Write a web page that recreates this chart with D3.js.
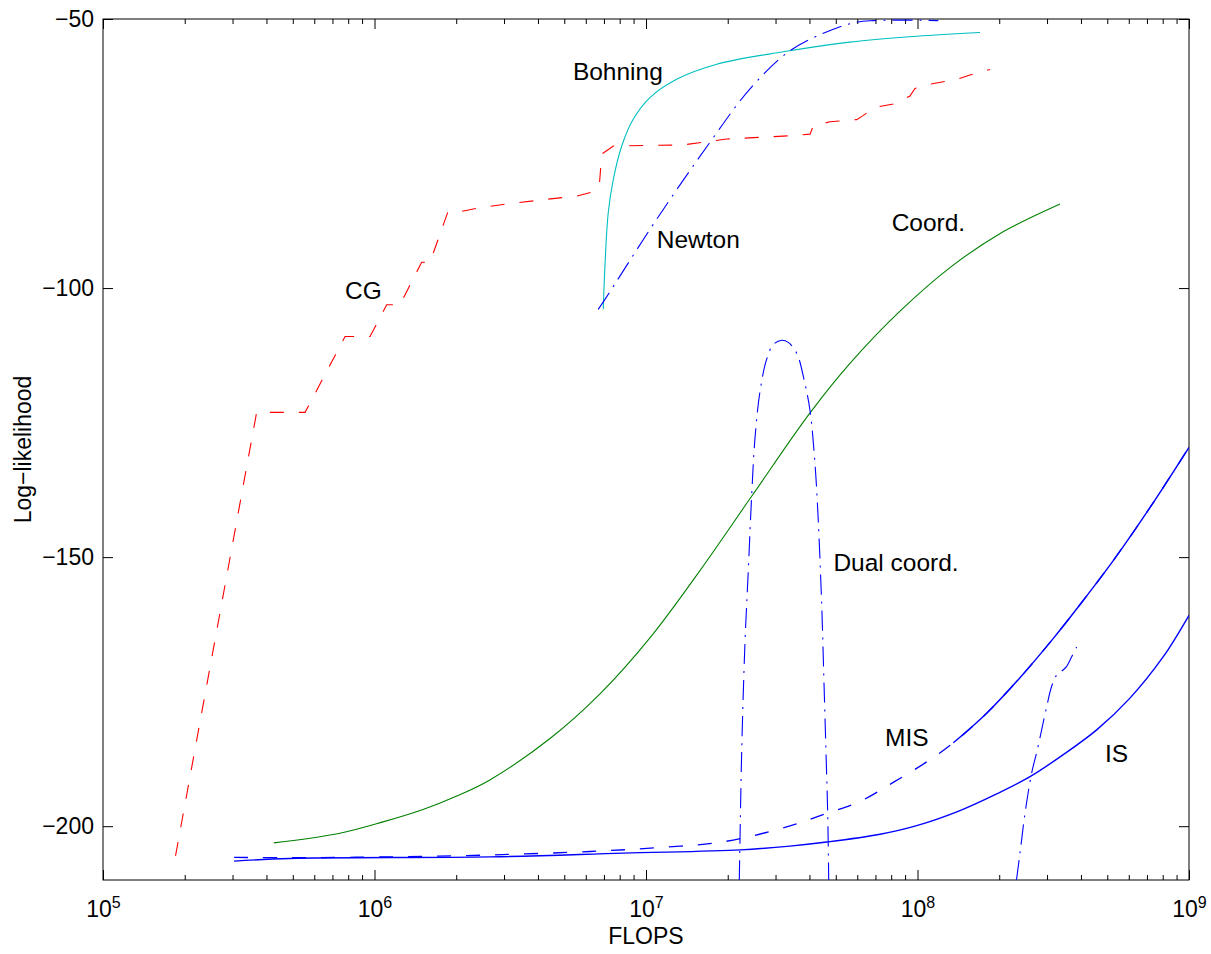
<!DOCTYPE html>
<html><head><meta charset="utf-8">
<script src="https://cdn.jsdelivr.net/npm/d3@7"></script>
<style>
body{margin:0;background:#fff}
text{font-family:"Liberation Sans",Arial,Helvetica,sans-serif;fill:#000}
</style>
</head><body>
<svg id="chart" width="1211" height="954"></svg>
<script>
// ---------- data ----------
const xMajorTicks = [1e5, 1e6, 1e7, 1e8, 1e9];
const xTickExponents = ["5", "6", "7", "8", "9"];
const yTicks = [-200, -150, -100, -50];

const cgX = [1.85e5, 3.68e5, 5.55e5, 7.79e5, 9.63e5, 1.109e6, 1.241e6, 1.492e6, 1.601e6, 1.865e6, 2.064e6, 2.378e6, 3.025e6, 4.31e6, 5.56e6, 6.39e6, 6.73e6, 6.87e6, 7.58e6, 1.372e7, 1.983e7, 3.39e7, 4.02e7, 4.13e7, 4.76e7, 5.97e7, 6.28e7, 6.98e7, 8.14e7, 9.38e7, 9.79e7, 1.112e8, 1.395e8, 1.561e8, 1.849e8];
const cgY = [-205.5, -123.1, -123.1, -109.0, -109.0, -103.1, -103.1, -95.2, -95.2, -85.8, -85.8, -85.2, -84.4, -83.5, -82.9, -82.1, -81.0, -75.1, -73.6, -73.4, -72.3, -71.7, -71.4, -69.9, -69.1, -68.7, -68.0, -66.4, -65.8, -64.3, -62.9, -62.1, -61.2, -60.4, -59.4];

const bohningX = [6.96e6, 7.06e6, 7.26e6, 7.58e6, 8.14e6, 8.98e6, 1.034e7, 1.297e7, 1.822e7, 3.20e7, 5.64e7, 9.93e7, 1.699e8];
const bohningY = [-103.95, -95.9, -86.0, -79.8, -73.6, -68.6, -64.6, -61.2, -58.4, -56.1, -54.3, -53.2, -52.5];

const newtonX = [6.67e6, 7.06e6, 1.095e7, 1.721e7, 2.416e7, 3.39e7, 4.90e7, 5.97e7, 6.87e7, 8.62e7, 1.193e8];
const newtonY = [-103.95, -102.1, -87.2, -72.9, -63.0, -55.9, -51.9, -50.6, -50.3, -50.2, -50.3];

const coordX = [4.26e5, 7.46e5, 1.075e6, 1.509e6, 2.01e6, 2.66e6, 4.43e6, 6.77e6, 1.034e7, 1.58e7, 2.457e7, 4.02e7, 5.64e7, 8.62e7, 1.317e8, 2.01e8, 3.35e8];
const coordY = [-203.1, -201.3, -199.2, -196.9, -194.4, -191.4, -183.7, -175.4, -165.0, -152.5, -138.6, -123.2, -114.0, -104.3, -96.2, -89.9, -84.4];

const dualX = [2.206e7, 2.219e7, 2.252e7, 2.315e7, 2.381e7, 2.45e7, 2.52e7, 2.63e7, 2.783e7, 2.943e7, 3.16e7, 3.343e7, 3.59e7, 3.85e7, 4.02e7, 4.19e7, 4.31e7, 4.44e7, 4.52e7, 4.60e7, 4.67e7, 4.71e7];
const dualY = [-210, -202.65, -185.9, -165.9, -152.5, -138.6, -127.9, -119.2, -113.2, -110.5, -109.7, -110.1, -112.1, -117.8, -122.8, -132.5, -143.2, -159.2, -172.6, -185.9, -197.9, -210];

const dual2X = [2.315e8, 2.385e8, 2.489e8, 2.634e8, 2.762e8, 2.991e8, 3.12e8, 3.256e8, 3.397e8, 3.544e8, 3.698e8, 3.857e8];
const dual2Y = [-210, -205.0, -197.6, -190.1, -185.8, -177.8, -174.0, -171.9, -171.2, -170.3, -168.5, -166.7];

const misX = [3.04e5, 4.88e5, 1.141e6, 2.66e6, 6.22e6, 1.095e7, 1.926e7, 3.39e7, 4.63e7, 6.14e7, 8.14e7, 1.081e8, 1.355e8, 1.798e8, 2.385e8, 3.164e8, 3.97e8, 5.26e8, 7.18e8, 1e9];
const misY = [-205.8, -205.85, -205.7, -205.35, -204.7, -204.0, -202.9, -199.95, -197.6, -195.4, -191.86, -188.05, -184.5, -179.0, -172.4, -165.1, -158.8, -150.65, -140.8, -129.6];

const isX = [3.04e5, 4.88e5, 2.66e6, 8.25e6, 2.232e7, 3.39e7, 4.63e7, 7.28e7, 9.93e7, 1.434e8, 1.957e8, 2.597e8, 3.444e8, 4.57e8, 6.06e8, 8.04e8, 1e9];
const isY = [-206.5, -206.0, -205.7, -205.0, -204.4, -203.7, -202.95, -201.5, -199.9, -197.1, -194.0, -190.8, -186.7, -182.1, -176.2, -168.5, -160.8];

const labelTexts = ["Bohning", "Newton", "Coord.", "CG", "Dual coord.", "MIS", "IS"];
const labelX = [5.38e6, 1.095e7, 8.03e7, 7.79e5, 4.9e7, 7.59e7, 4.9e8];
const labelY = [-61.35, -92.6, -89.4, -102.1, -152.6, -185.1, -188.0];

// ---------- layout ----------
const svg = d3.select("#chart");
const L = 103, R = 1189, T = 19, B = 880;
const x = d3.scaleLog().domain([1e5, 1e9]).range([L, R]);
const y = d3.scaleLinear().domain([-210, -50]).range([B, T]);

const FS = 23;     // tick labels / axis titles
const FSL = 24.5;  // curve labels

svg.append("defs").append("clipPath").attr("id", "clip")
  .append("rect").attr("x", L).attr("y", T).attr("width", R - L).attr("height", B - T);

const minorTicks = [];
for (let e = 5; e < 9; e++) for (let k = 2; k <= 9; k++) minorTicks.push(k * Math.pow(10, e));

function styleAxis(g) {
  g.select(".domain").remove();
  g.selectAll(".tick line").attr("stroke", "#000").attr("stroke-width", 1);
}

// bottom major
const gxb = svg.append("g").attr("transform", `translate(0,${B})`)
  .call(d3.axisBottom(x).tickValues(xMajorTicks).tickSize(-10).tickPadding(0).tickFormat(""));
styleAxis(gxb);
gxb.selectAll(".tick text").each(function(d, i) {
  const t = d3.select(this);
  t.attr("y", 37).attr("dy", null).attr("font-size", FS).attr("font-family", null);
  t.append("tspan").text("10");
  t.append("tspan").attr("dy", -9).attr("font-size", 16).text(xTickExponents[i]);
});
// bottom minor
styleAxis(svg.append("g").attr("transform", `translate(0,${B})`)
  .call(d3.axisBottom(x).tickValues(minorTicks).tickSize(-5).tickFormat("")));
// top
styleAxis(svg.append("g").attr("transform", `translate(0,${T})`)
  .call(d3.axisTop(x).tickValues(xMajorTicks).tickSize(-10).tickFormat("")));
styleAxis(svg.append("g").attr("transform", `translate(0,${T})`)
  .call(d3.axisTop(x).tickValues(minorTicks).tickSize(-5).tickFormat("")));
// left
const gyl = svg.append("g").attr("transform", `translate(${L},0)`)
  .call(d3.axisLeft(y).tickValues(yTicks).tickSize(-10).tickPadding(9));
styleAxis(gyl);
gyl.selectAll(".tick text").attr("font-size", FS).attr("font-family", null).attr("fill", "#000");
// right
styleAxis(svg.append("g").attr("transform", `translate(${R},0)`)
  .call(d3.axisRight(y).tickValues(yTicks).tickSize(-10).tickFormat("")));

// frame
svg.append("rect").attr("x", L).attr("y", T).attr("width", R - L).attr("height", B - T)
  .attr("fill", "none").attr("stroke", "#000").attr("stroke-width", 1);

// axis titles
svg.append("text").attr("x", (L + R) / 2).attr("y", 944).attr("text-anchor", "middle")
  .attr("font-size", FS).text("FLOPS");
svg.append("text").attr("transform", `translate(31,${(T + B) / 2}) rotate(-90)`)
  .attr("text-anchor", "middle").attr("font-size", FS).text("Log\u2212likelihood");

// ---------- lines ----------
const plot = svg.append("g").attr("clip-path", "url(#clip)");
function zip(xs, ys) { return xs.map((v, i) => [v, ys[i]]); }
const lineLin = d3.line().x(d => x(d[0])).y(d => y(d[1]));
const lineSmooth = d3.line().x(d => x(d[0])).y(d => y(d[1])).curve(d3.curveCatmullRom.alpha(0.5));

function draw(data, gen, color, dash, w) {
  plot.append("path").datum(data).attr("d", gen)
    .attr("fill", "none").attr("stroke", color).attr("stroke-width", w || 1.1)
    .attr("stroke-dasharray", dash || null);
}
const DASH = "14,15";
const DASHDOT = "20,7,2,7";

draw(zip(cgX, cgY), lineLin, "#ff0000", DASH);
draw(zip(bohningX, bohningY), lineSmooth, "#00bfbf", null);
draw(zip(newtonX, newtonY), lineSmooth, "#0000ff", DASHDOT);
draw(zip(coordX, coordY), lineSmooth, "#008000", null);
draw(zip(dualX, dualY), lineSmooth, "#0000ff", DASHDOT);
draw(zip(dual2X, dual2Y), lineSmooth, "#0000ff", DASHDOT);
draw(zip(isX, isY), lineSmooth, "#0000ff", null, 1.4);
const misData = zip(misX, misY);
draw(misData, lineSmooth, "#0000ff", DASH, 1.3);
draw(misData.filter(d => d[0] >= 1.3e8), lineSmooth, "#0000ff", null, 1.4);

// ---------- labels ----------
labelTexts.forEach((t, i) => {
  svg.append("text").attr("x", x(labelX[i])).attr("y", y(labelY[i]))
    .attr("font-size", FSL).text(t);
});
</script>
</body></html>
